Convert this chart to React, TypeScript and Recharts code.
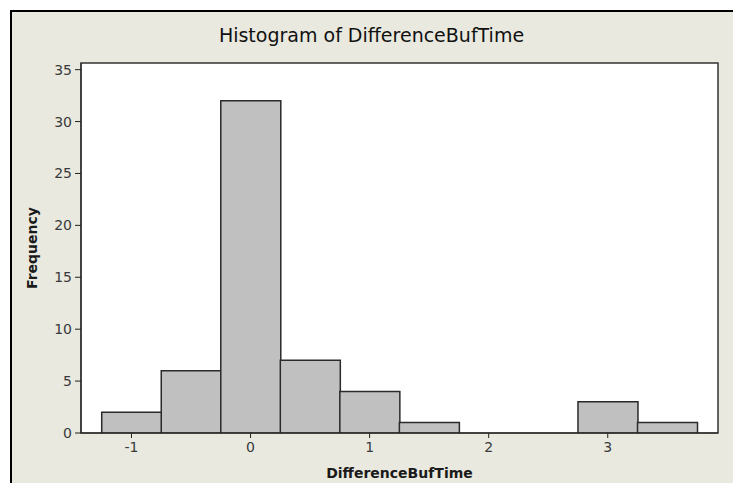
import { ComposedChart, Bar, XAxis, YAxis, ReferenceArea } from 'recharts';

// bin midpoints (bin width 0.5) and counts
const binCenters = [-1, -0.5, 0, 0.5, 1, 1.5, 2, 2.5, 3, 3.5];
const frequencies = [2, 6, 32, 7, 4, 1, 0, 0, 3, 1];
const xTicks = [-1, 0, 1, 2, 3];
const yTicks = [0, 5, 10, 15, 20, 25, 30, 35];
const xDomain = [-1.424, 3.926];
const yDomain = [0, 35.64];

const chartData = binCenters.map((x, i) => ({ x, count: frequencies[i] }));

const FONT = '"DejaVu Sans", Verdana, sans-serif';

function XTick(props: any) {
  const { x, y, payload } = props;
  return (
    <text x={x} y={y} dy={11} textAnchor="middle" fontFamily={FONT} fontSize={14} fill="#3a3a3a">
      {payload.value}
    </text>
  );
}

function YTick(props: any) {
  const { x, y, payload } = props;
  return (
    <text x={x} y={y} dy={5} textAnchor="end" fontFamily={FONT} fontSize={14} fill="#3a3a3a">
      {payload.value}
    </text>
  );
}

function FrequencyLabel(props: any) {
  const vb = props.viewBox || { y: 0, height: 0 };
  const cy = vb.y + vb.height / 2;
  return (
    <text
      x={24}
      y={cy}
      transform={`rotate(-90, 24, ${cy})`}
      textAnchor="middle"
      dominantBaseline="central"
      fontFamily={FONT}
      fontWeight="bold"
      fontSize={14}
      fill="#1a1a1a"
    >
      Frequency
    </text>
  );
}

export default function App() {
  return (
    <div style={{ position: 'relative', width: 733, height: 475 }}>
      <div
        style={{
          position: 'absolute',
          left: 2,
          top: 2,
          width: 731,
          height: 473,
          boxSizing: 'border-box',
          borderLeft: '2px solid #000',
          borderTop: '2px solid #000',
          background: '#e9e9df',
        }}
      />
      <div
        style={{
          position: 'absolute',
          left: 0,
          top: 18,
          width: 727,
          textAlign: 'center',
          fontFamily: FONT,
          fontSize: 19,
          lineHeight: '19px',
          color: '#111',
          whiteSpace: 'nowrap',
        }}
      >
        Histogram of DifferenceBufTime
      </div>
      <div style={{ position: 'absolute', left: 0, top: 0 }}>
        <ComposedChart
          width={733}
          height={475}
          data={chartData}
          margin={{ top: 55, right: 23, bottom: 0, left: 10 }}
          barCategoryGap={0}
          barGap={0}
        >
          <ReferenceArea
            x1={xDomain[0]}
            x2={xDomain[1]}
            y1={yDomain[0]}
            y2={yDomain[1]}
            fill="#ffffff"
            fillOpacity={1}
            stroke="#333"
            strokeWidth={1.5}
          />
          <XAxis
            dataKey="x"
            type="number"
            domain={xDomain}
            ticks={xTicks}
            allowDataOverflow
            height={50}
            tickSize={5}
            tickMargin={3}
            tick={<XTick />}
            stroke="#222"
            label={{
              value: 'DifferenceBufTime',
              position: 'insideBottom',
              offset: 5,
              style: { fontFamily: FONT, fontWeight: 'bold', fontSize: 14, fill: '#1a1a1a' },
            }}
          />
          <YAxis
            type="number"
            domain={yDomain}
            ticks={yTicks}
            allowDataOverflow
            width={63}
            tickSize={6}
            tickMargin={3}
            tick={<YTick />}
            stroke="#222"
            label={<FrequencyLabel />}
          />
          <Bar
            dataKey="count"
            fill="#c0c0c0"
            stroke="#2a2a2a"
            strokeWidth={1.5}
            isAnimationActive={false}
          />
        </ComposedChart>
      </div>
    </div>
  );
}
